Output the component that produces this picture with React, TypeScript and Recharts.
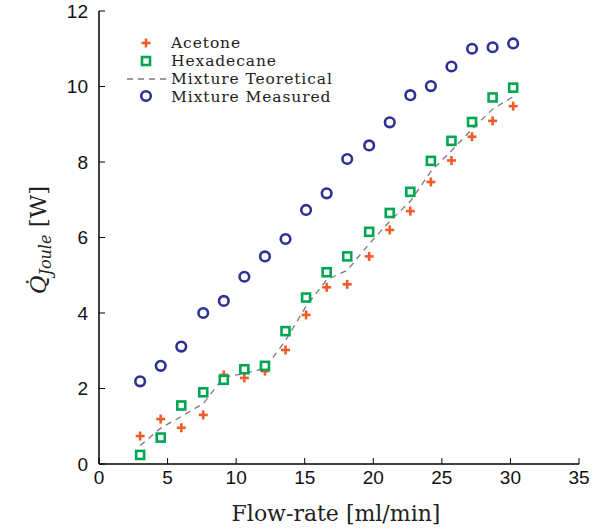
import React from 'react';
import { ScatterChart, Scatter, XAxis, YAxis } from 'recharts';

// flow-rate [ml/min]
const FLOW = [3.0, 4.5, 6.0, 7.6, 9.1, 10.6, 12.1, 13.6, 15.1, 16.6, 18.1, 19.7, 21.2, 22.7, 24.2, 25.7, 27.2, 28.7, 30.2];

// Joule heating [W]
const ACETONE = [0.74, 1.19, 0.96, 1.3, 2.36, 2.28, 2.46, 3.02, 3.95, 4.68, 4.76, 5.5, 6.2, 6.7, 7.47, 8.04, 8.67, 9.09, 9.48];
const HEXADECANE = [0.24, 0.7, 1.55, 1.9, 2.23, 2.51, 2.6, 3.52, 4.41, 5.08, 5.5, 6.15, 6.65, 7.21, 8.03, 8.56, 9.06, 9.71, 9.97];
const TEORETICAL = [0.49, 0.95, 1.26, 1.6, 2.3, 2.4, 2.53, 3.27, 4.18, 4.88, 5.13, 5.83, 6.43, 6.96, 7.75, 8.3, 8.87, 9.4, 9.73];
const MEASURED = [2.19, 2.6, 3.11, 4.0, 4.32, 4.96, 5.5, 5.96, 6.73, 7.17, 8.08, 8.44, 9.05, 9.77, 10.01, 10.53, 11.0, 11.04, 11.14];

const X_TICKS = [0, 5, 10, 15, 20, 25, 30, 35];
const Y_TICKS = [0, 2, 4, 6, 8, 10, 12];

const C_ACETONE = '#F15A29';
const C_HEXA = '#00A651';
const C_MEAS = '#2E3192';
const C_TEOR = '#7A7A7A';

const zip = (ys: number[]) => FLOW.map((x, i) => ({ x, y: ys[i] }));

const SERIF = '"DejaVu Serif", "Liberation Serif", serif';
const SANS = '"Liberation Sans", Arial, sans-serif';

const PlusMark = ({ cx, cy }: any) => (
  <g stroke={C_ACETONE} strokeWidth={2.6}>
    <line x1={cx - 4.5} y1={cy} x2={cx + 4.5} y2={cy} />
    <line x1={cx} y1={cy - 4.5} x2={cx} y2={cy + 4.5} />
  </g>
);

const SquareMark = ({ cx, cy }: any) => (
  <rect x={cx - 4} y={cy - 4} width={8} height={8} fill="#fff" stroke={C_HEXA} strokeWidth={2.6} />
);

const CircleMark = ({ cx, cy }: any) => (
  <circle cx={cx} cy={cy} r={4.8} fill="#fff" stroke={C_MEAS} strokeWidth={2.6} />
);

const Legend = () => (
  <g fontFamily={SERIF} fontSize={15.5} letterSpacing={0.9} fill="#222">
    <PlusMark cx={146} cy={43} />
    <text x={171} y={48}>Acetone</text>
    <SquareMark cx={146} cy={61} />
    <text x={171} y={66}>Hexadecane</text>
    <line x1={127} y1={79} x2={168} y2={79} stroke={C_TEOR} strokeWidth={1.3} strokeDasharray="6 5" />
    <text x={171} y={84}>Mixture Teoretical</text>
    <CircleMark cx={146} cy={96} />
    <text x={171} y={101.5}>Mixture Measured</text>
  </g>
);

const YTitle = () => (
  <text
    transform="translate(46,240) rotate(-90)"
    textAnchor="middle"
    fontFamily={SERIF}
    fontSize={23}
    fill="#222"
  >
    <tspan fontStyle="italic">{'Q\u0307'}</tspan>
    <tspan fontStyle="italic" fontSize={16} dy={5}>Joule</tspan>
    <tspan dy={-5}>{' [W]'}</tspan>
  </text>
);

const XTitle = () => (
  <text x={336} y={521} textAnchor="middle" fontFamily={SERIF} fontSize={22} fill="#222">
    Flow-rate [ml/min]
  </text>
);

export default function App() {
  const axisLine = { stroke: '#000', strokeWidth: 1.5 };
  const tickLine = { stroke: '#000', strokeWidth: 1 };
  const tickStyle = { fontFamily: SANS, fontSize: 19, fill: '#111' };
  return (
    <div style={{ position: 'absolute', left: 0, top: 0, background: '#fff' }}>
      <ScatterChart width={601} height={530} margin={{ top: 11, right: 22, bottom: 0, left: 0 }}>
        <XAxis
          xAxisId="b"
          type="number"
          dataKey="x"
          domain={[0, 35]}
          ticks={X_TICKS}
          height={66}
          axisLine={axisLine}
          tickLine={tickLine}
          tickSize={-6}
          tickMargin={13}
          tick={tickStyle}
          label={{ content: () => <XTitle /> }}
        />
        <XAxis
          xAxisId="t"
          orientation="top"
          type="number"
          dataKey="x"
          domain={[0, 35]}
          ticks={X_TICKS}
          height={0}
          axisLine={axisLine}
          tickLine={tickLine}
          tickSize={-6}
          tick={false}
        />
        <YAxis
          yAxisId="l"
          type="number"
          dataKey="y"
          domain={[0, 12]}
          ticks={Y_TICKS}
          width={99}
          axisLine={axisLine}
          tickLine={tickLine}
          tickSize={-6}
          tickMargin={17}
          tick={tickStyle}
          label={{ content: () => <YTitle /> }}
        />
        <YAxis
          yAxisId="r"
          orientation="right"
          type="number"
          dataKey="y"
          domain={[0, 12]}
          ticks={Y_TICKS}
          width={0}
          axisLine={axisLine}
          tickLine={tickLine}
          tickSize={-6}
          tick={false}
        />
        <Scatter
          xAxisId="b"
          yAxisId="l"
          data={zip(TEORETICAL)}
          line={{ stroke: C_TEOR, strokeWidth: 1.3, strokeDasharray: '6 5' }}
          shape={() => <g />}
          isAnimationActive={false}
        />
        <Scatter xAxisId="b" yAxisId="l" data={zip(ACETONE)} shape={PlusMark} isAnimationActive={false} />
        <Scatter xAxisId="b" yAxisId="l" data={zip(HEXADECANE)} shape={SquareMark} isAnimationActive={false} />
        <Scatter xAxisId="b" yAxisId="l" data={zip(MEASURED)} shape={CircleMark} isAnimationActive={false} />
        <Legend />
      </ScatterChart>
    </div>
  );
}
